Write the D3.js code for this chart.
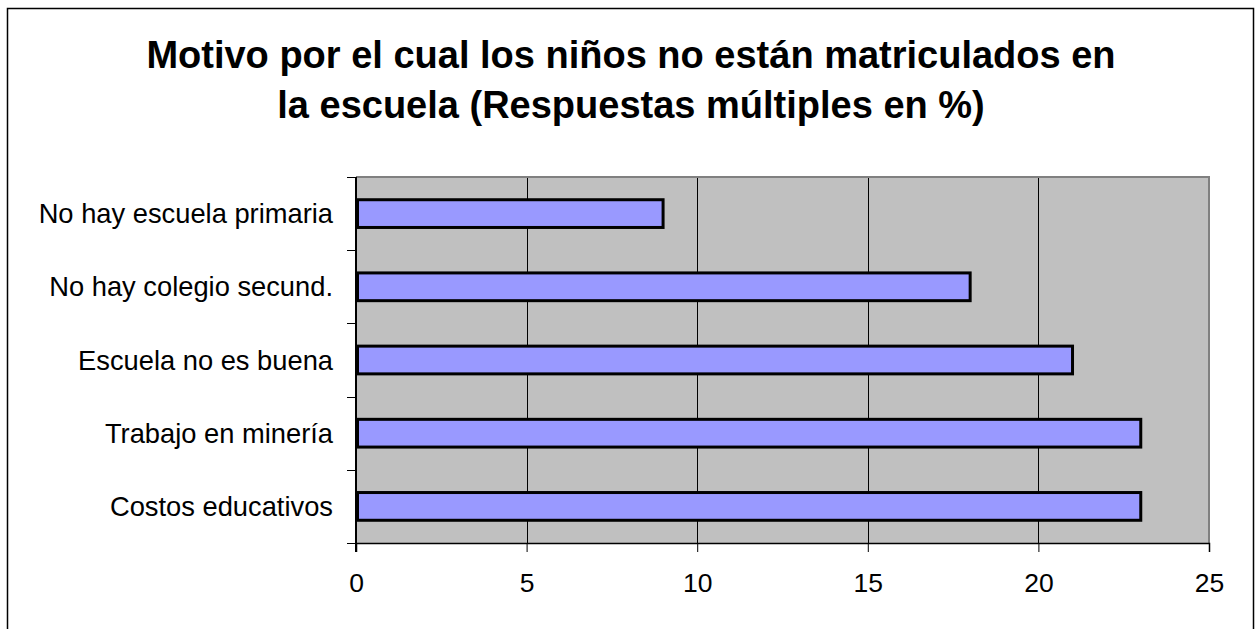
<!DOCTYPE html>
<html><head><meta charset="utf-8">
<script src="https://cdn.jsdelivr.net/npm/d3@7"></script>
<style>body{margin:0;background:#fff}svg{display:block}text{font-family:"Liberation Sans",Arial,sans-serif}</style>
</head><body>
<script>
const categories = ["No hay escuela primaria","No hay colegio secund.","Escuela no es buena","Trabajo en minería","Costos educativos"];
const values = [9, 18, 21, 23, 23];
const xTicks = [0, 5, 10, 15, 20, 25];
const titleLines = ["Motivo por el cual los niños no están matriculados en","la escuela (Respuestas múltiples en %)"];

const W = 1257, H = 629;
const svg = d3.select("body").append("svg").attr("width", W).attr("height", H);
svg.append("rect").attr("x",7.5).attr("y",8.5).attr("width",1246).attr("height",640)
  .attr("fill","#fff").attr("stroke","#000").attr("stroke-width",1.5);

const L = 356, R = 1209, T = 177, B = 543;
const x = d3.scaleLinear().domain([0,25]).range([L,R]);
const y = d3.scaleBand().domain(categories).range([T,B]).paddingInner(0.58).paddingOuter(0.29);
const yb = d3.scaleBand().domain(categories).range([T,B]);

svg.append("rect").attr("x",L).attr("y",T).attr("width",R-L).attr("height",B-T).attr("fill","#C0C0C0");
// gridlines
svg.append("g").selectAll("line").data(xTicks.slice(1,-1)).join("line")
  .attr("x1",d=>Math.round(x(d))+0.5).attr("x2",d=>Math.round(x(d))+0.5).attr("y1",T).attr("y2",B)
  .attr("stroke","#000").attr("stroke-width",1);
// plot border top/right gray
svg.append("path").attr("d",`M${L},${T} H${R} V${B}`).attr("fill","none").attr("stroke","#808080").attr("stroke-width",2);

// bars
svg.append("g").selectAll("rect").data(values).join("rect")
  .attr("x",x(0)+1.5).attr("y",(d,i)=>y(categories[i])+1.5)
  .attr("width",d=>x(d)-x(0)-1.5).attr("height",y.bandwidth()-3)
  .attr("fill","#9999FF").attr("stroke","#000").attr("stroke-width",3);

// axes
const xAxis = svg.append("g").attr("transform",`translate(0,${B})`)
  .call(d3.axisBottom(x).tickValues(xTicks).tickSize(9).tickPadding(21).tickFormat(d3.format("d")));
xAxis.select(".domain").attr("stroke","#000").attr("stroke-width",1.5);
xAxis.selectAll(".tick line").attr("stroke","#000");
xAxis.selectAll("text").attr("font-size",26.5).attr("fill","#000");

const yAxis = svg.append("g").attr("transform",`translate(${L},0)`);
yAxis.append("line").attr("x1",0).attr("x2",0).attr("y1",T).attr("y2",B+9).attr("stroke","#000").attr("stroke-width",2);
yAxis.selectAll("line.t").data(d3.range(categories.length+1)).join("line").attr("class","t")
  .attr("x1",-9).attr("x2",0).attr("y1",i=>i<categories.length?Math.round(yb(categories[i]))+0.5:B+0.5)
  .attr("y2",i=>i<categories.length?Math.round(yb(categories[i]))+0.5:B+0.5).attr("stroke","#000");
yAxis.selectAll("text").data(categories).join("text")
  .attr("x",-23).attr("y",d=>yb(d)+yb.bandwidth()/2).attr("dy","0.35em").attr("text-anchor","end")
  .attr("font-size",27.3).attr("fill","#000").text(d=>d);

// title
svg.append("g").selectAll("text").data(titleLines).join("text")
  .attr("x",631).attr("y",(d,i)=>68+i*50).attr("text-anchor","middle")
  .attr("font-size",38).attr("font-weight","bold").attr("fill","#000").text(d=>d);
</script>
</body></html>
